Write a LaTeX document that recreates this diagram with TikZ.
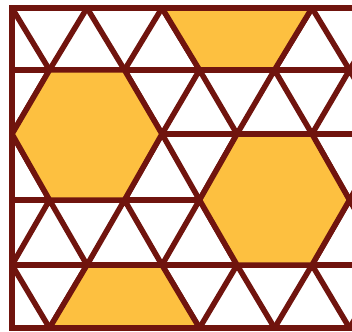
\documentclass[tikz,border=0pt]{standalone}
\usepackage{xcolor}
\usepackage{tikz}
\usetikzlibrary{calc}

\definecolor{tileline}{RGB}{112,20,14}
\definecolor{tilefill}{RGB}{253,192,64}

\begin{document}
\begin{tikzpicture}[
  x=1pt, y=-1pt,
  edge/.style={draw=tileline,line width=5.5pt},
  border/.style={edge,line join=miter},
  tile/.style={edge,fill=tilefill,line join=miter},
]
\useasboundingbox (0,0) rectangle (352,331);

% slanted lines
\begin{scope}
  \clip (12,8) rectangle (352,328);
  \foreach \ya/\yb/\s in {8/70/0, 70/134/37.5, 134/200/0, 200/265/37.5, 265/328/0}
    \foreach \i in {-1,...,5}{
      \pgfmathsetmacro{\xm}{12+\s+75*\i}
      \draw[edge] ({\xm-37.5},\yb) -- (\xm,\ya) -- ({\xm+37.5},\yb);
    }
\end{scope}

% horizontal lines
\foreach \y in {70,134,200,265}
  \draw[edge] (12,\y) -- (352,\y);

% yellow tiles
\begin{scope}
  \clip (12,8) rectangle (352,328);
  \path[tile] (162,8) -- (312,8) -- (274.5,70) -- (199.5,70) -- cycle;
  \path[tile] (49.5,70) -- (124.5,70) -- (162,134) -- (124.5,200) -- (49.5,200) -- (12,134) -- cycle;
  \path[tile] (237,134) -- (312,134) -- (349.5,200) -- (312,265) -- (237,265) -- (199.5,200) -- cycle;
  \path[tile] (87,265) -- (162,265) -- (199.5,328) -- (49.5,328) -- cycle;
\end{scope}

% outer frame
\draw[border] (352,8) -- (12,8) -- (12,328) -- (352,328);

\end{tikzpicture}
\end{document}
